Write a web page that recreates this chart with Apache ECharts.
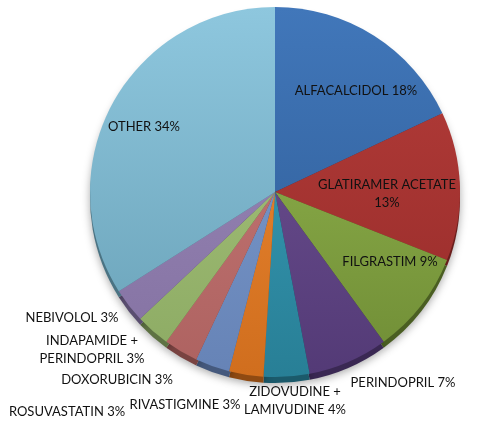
<!DOCTYPE html>
<html>
<head>
<meta charset="utf-8">
<script src="https://cdn.jsdelivr.net/npm/echarts@6/dist/echarts.min.js"></script>
<style>
html,body{margin:0;padding:0;background:#fff;}
#chart{width:481px;height:426px;}
</style>
</head>
<body>
<div id="chart"></div>
<script>
// Data
const categories = ['ALFACALCIDOL', 'GLATIRAMER ACETATE', 'FILGRASTIM', 'PERINDOPRIL',
  'ZIDOVUDINE + LAMIVUDINE', 'RIVASTIGMINE', 'ROSUVASTATIN', 'DOXORUBICIN',
  'INDAPAMIDE + PERINDOPRIL', 'NEBIVOLOL', 'OTHER'];
const shares = [18, 13, 9, 7, 4, 3, 3, 3, 3, 3, 34];

// Styles / layout (kept separate from data)
const topColors = ['#4177ba', '#b53d3a', '#97bb52', '#735598', '#3ba3be', '#f08c36',
  '#80a0d2', '#cb7b7a', '#aac77f', '#9d8bbb', '#8ec7de'];
const bottomColors = ['#2d5a93', '#962b29', '#6f8c35', '#533a76', '#287f96', '#d06e1e',
  '#6683b6', '#ad6260', '#8caa63', '#8371a1', '#68a0b6'];
const edgeColors = ['#1f3f68', '#6a1e1c', '#4a5e22', '#3a2853', '#1b5a6b', '#8f4a12',
  '#45597d', '#794341', '#5e7243', '#5a4e70', '#4a7383'];
const labelPos = [[356, 91], [387, 194], [390, 262], [403, 383], [295, 401], [185, 405],
  [67, 412], [117, 380], [92, 350], [72, 318], [144, 127]];
const wrapped = {
  'GLATIRAMER ACETATE': 'GLATIRAMER ACETATE\n',
  'ZIDOVUDINE + LAMIVUDINE': 'ZIDOVUDINE +\nLAMIVUDINE ',
  'INDAPAMIDE + PERINDOPRIL': 'INDAPAMIDE +\nPERINDOPRIL '
};

const CX = 275, CY = 192, R = 185;

function grad(i) {
  return {
    type: 'linear', global: true, x: 0, y: CY - R, x2: 0, y2: CY + R,
    colorStops: [{offset: 0, color: topColors[i]}, {offset: 1, color: bottomColors[i]}]
  };
}

const topData = categories.map((c, i) => ({name: c, value: shares[i], itemStyle: {color: grad(i)}}));
const edgeData = categories.map((c, i) => ({name: c, value: shares[i], itemStyle: {color: edgeColors[i]}}));

const chart = echarts.init(document.getElementById('chart'), null, {renderer: 'canvas'});
chart.setOption({
  backgroundColor: '#ffffff',
  animation: false,
  series: [
    {
      type: 'pie',
      silent: true,
      center: [CX, CY + 6],
      radius: [0, R],
      startAngle: 90,
      clockwise: true,
      label: {show: false},
      labelLine: {show: false},
      itemStyle: {borderWidth: 0, shadowBlur: 8, shadowColor: 'rgba(0,0,0,0.35)', shadowOffsetY: 2},
      data: edgeData,
      z: 1
    },
    {
      type: 'pie',
      center: [CX, CY],
      radius: [0, R],
      startAngle: 90,
      clockwise: true,
      avoidLabelOverlap: false,
      itemStyle: {borderWidth: 0},
      label: {
        show: true,
        position: 'inside',
        fontFamily: 'Lato',
        fontSize: 13,
        lineHeight: 18,
        color: '#111111',
        align: 'center',
        formatter: p => (wrapped[p.name] || (p.name + ' ')) + p.value + '%'
      },
      labelLine: {show: false},
      labelLayout: p => ({
        x: labelPos[p.dataIndex][0],
        y: labelPos[p.dataIndex][1],
        align: 'center',
        verticalAlign: 'middle'
      }),
      data: topData,
      z: 2
    }
  ]
});
</script>
</body>
</html>
